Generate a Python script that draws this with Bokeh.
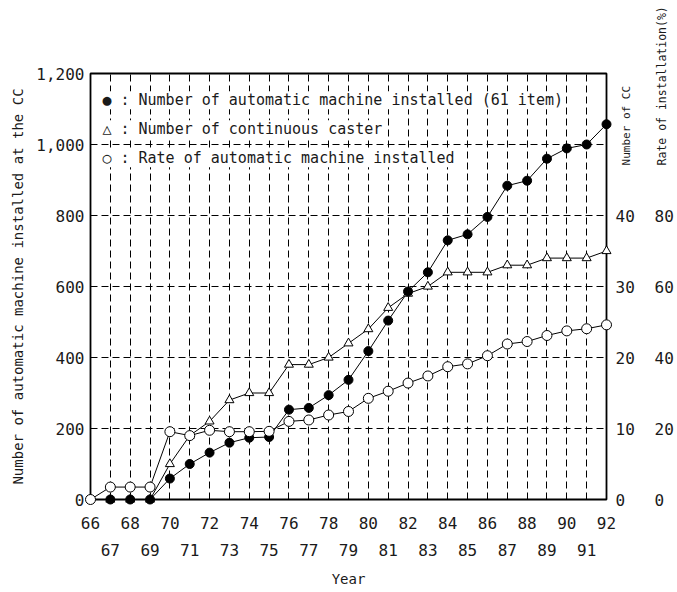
import math
from bokeh.plotting import figure
from bokeh.models import (LinearAxis, Range1d, FixedTicker, NumeralTickFormatter, Label)
from bokeh.core.properties import value
from bokeh.embed import file_html
from bokeh.resources import INLINE

# ---- data ----
years_rate = list(range(66, 93))
rate_pct = [0, 3.5, 3.5, 3.5, 19.1, 18.0, 19.5, 19.1, 19.1, 19.2, 22.0, 22.4, 23.8,
            24.8, 28.5, 30.5, 32.8, 34.8, 37.4, 38.2, 40.5, 43.8, 44.5, 46.2, 47.5, 48.1, 49.2]

years_auto = list(range(67, 93))
auto_machines = [0, 0, 0, 59, 100, 132, 160, 174, 176, 253, 258, 294, 337, 418, 504,
                 586, 640, 730, 747, 796, 884, 898, 960, 989, 1000, 1057]

years_cc = list(range(67, 93))
cc_count = [0, 0, 0, 5, 9, 11, 14, 15, 15, 19, 19, 20, 22, 24, 27, 29, 30, 32, 32, 32,
            33, 33, 34, 34, 34, 35]

even_years = list(range(66, 93, 2))
odd_years = list(range(67, 92, 2))
left_ticks = [0, 200, 400, 600, 800, 1000, 1200]
cc_ticks = [0, 10, 20, 30, 40]
rate_ticks = [0, 20, 40, 60, 80]

legend_texts = ["\u25cf : Number of automatic machine installed (61 item)",
                "\u25b3 : Number of continuous caster",
                "\u25cb : Rate of automatic machine installed"]
right_titles = ["Number of CC", "Rate of installation(%)"]

NUM_FONT = "DejaVu Sans Mono"
TXT_FONT = "DejaVu Sans Mono"
TXT_COLOR = "#1a1a1a"

p = figure(width=670, height=590, output_backend="svg", toolbar_location=None,
           x_range=Range1d(66, 92), y_range=Range1d(0, 1200),
           min_border_left=90, min_border_right=56, min_border_top=73, min_border_bottom=80,
           frame_width=516, frame_height=426)
p.extra_y_ranges = {"cc": Range1d(0, 60), "rate": Range1d(0, 120)}

p.background_fill_color = "white"
p.border_fill_color = "white"
p.outline_line_color = "black"
p.outline_line_width = 1.8

# grids
p.xgrid.ticker = FixedTicker(ticks=list(range(67, 92)))
p.ygrid.ticker = FixedTicker(ticks=[200, 400, 600, 800, 1000])
for g in (p.xgrid, p.ygrid):
    g.grid_line_color = "black"
    g.grid_line_dash = "7 4"
    g.grid_line_width = 1


def style_ticks(ax, standoff):
    ax.axis_line_color = None
    ax.minor_tick_line_color = None
    ax.major_label_standoff = standoff
    ax.major_label_text_font = NUM_FONT
    ax.major_label_text_font_size = "16px"
    ax.major_label_text_color = TXT_COLOR


# left axis
ya = p.yaxis[0]
ya.ticker = FixedTicker(ticks=left_ticks)
ya.formatter = NumeralTickFormatter(format="0,0")
style_ticks(ya, 6)
ya.major_tick_in = 4
ya.major_tick_out = 0
ya.axis_label = "Number of automatic machine installed at the CC"
ya.axis_label_text_font = TXT_FONT
ya.axis_label_text_font_style = "normal"
ya.axis_label_text_font_size = "14px"
ya.axis_label_text_color = TXT_COLOR
ya.axis_label_standoff = 7

# bottom axes
xa = p.xaxis[0]
xa.ticker = FixedTicker(ticks=even_years)
style_ticks(xa, 11)
xa.major_tick_line_color = None

xb = LinearAxis(ticker=FixedTicker(ticks=odd_years))
style_ticks(xb, 6)
xb.major_tick_line_color = None
xb.axis_label = "Year"
xb.axis_label_text_font = TXT_FONT
xb.axis_label_text_font_style = "normal"
xb.axis_label_text_font_size = "14px"
xb.axis_label_text_color = TXT_COLOR
xb.axis_label_standoff = 12
p.add_layout(xb, "below")

# right axes
for name, ticks, standoff in (("cc", cc_ticks, 3), ("rate", rate_ticks, 11)):
    ax = LinearAxis(y_range_name=name, ticker=FixedTicker(ticks=ticks))
    style_ticks(ax, standoff)
    ax.major_tick_line_color = None
    p.add_layout(ax, "right")

# series lines
p.line(years_cc, cc_count, y_range_name="cc", line_color="black", line_width=1)
p.line(years_auto, auto_machines, line_color="black", line_width=1)
p.line(years_rate, rate_pct, y_range_name="rate", line_color="black", line_width=1)

# markers (overlay level so that edge markers are not cut by the frame)
r1 = p.scatter(years_cc, cc_count, y_range_name="cc", marker="triangle", size=9,
               fill_color="white", line_color="black", line_width=1)
r2 = p.scatter(years_auto, auto_machines, marker="circle", size=9,
               fill_color="black", line_color="black")
r3 = p.scatter(years_rate, rate_pct, y_range_name="rate", marker="circle", size=10,
               fill_color="white", line_color="black", line_width=1)
for r in (r1, r2, r3):
    r.level = "overlay"

# legend text lines
for txt, yv in zip(legend_texts, (1125, 1043, 961)):
    p.add_layout(Label(x=66.6, y=yv, text=txt, text_font=TXT_FONT, text_font_size="15px",
                       text_baseline="middle", text_align="left", text_color=TXT_COLOR,
                       background_fill_color="white"))

# right-side axis titles, drawn above their tick columns (outside the frame)
t = p.text(x=[93.0, 94.8], y=[941, 941], text=right_titles, angle=math.pi / 2,
           text_font=value(TXT_FONT), text_font_size=["11px", "11.5px"], text_color=TXT_COLOR,
           text_baseline="middle", text_align="left")
t.level = "overlay"

open("out.html", "w").write(file_html(p, INLINE))
